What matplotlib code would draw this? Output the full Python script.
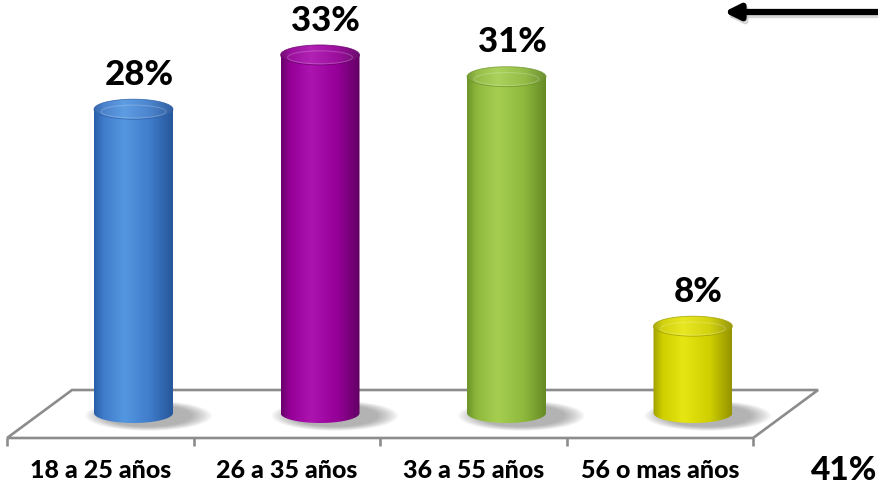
import numpy as np
import matplotlib
matplotlib.use("Agg")
import matplotlib.pyplot as plt
from matplotlib.patches import Ellipse, Polygon
from matplotlib.colors import to_rgb

# ---- data ----
categories = ["18 a 25 años", "26 a 35 años", "36 a 55 años", "56 o mas años"]
values = [28, 33, 31, 8]
value_labels = ["28%", "33%", "31%", "8%"]
side_label = "41%"

# ---- styles (dark, mid, light) ----
bar_colors = [
    ("#2A5EA8", "#3F7BC9", "#5497E1"),
    ("#6A006C", "#950097", "#AC14B0"),
    ("#6C9428", "#8DB83C", "#A6CF52"),
    ("#A0A000", "#CFCF00", "#E6E614"),
]
FONT = ["Lato", "DejaVu Sans"]

W, H = 879, 488
fig = plt.figure(figsize=(W / 100, H / 100), dpi=100)
ax = fig.add_axes([0, 0, 1, 1])
ax.set_axis_off()

# pixel <-> data mapping: category i at px 133.5 + 186.5*i, value v at py 413 - 10.85*v
PX0, PXS = 133.5, 186.5
PY0, PYS = 413.0, 10.85
ax.set_xlim(-PX0 / PXS, (W - PX0) / PXS)
ax.set_ylim((PY0 - H) / PYS, PY0 / PYS)

bw = 79 / PXS           # cylinder width in category units
eh = 20 / PYS           # ellipse height in value units
depth_x = 65 / PXS      # floor perspective shift
floor_front = -25 / PYS
floor_back = 23 / PYS
lab_shift = 0.178
n = len(categories)

# ---- floor ----
x_left = -0.5 - lab_shift
x_right = n - 0.5 - lab_shift
floor = Polygon([(x_left, floor_front), (x_right, floor_front),
                 (x_right + depth_x, floor_back), (x_left + depth_x, floor_back)],
                closed=True, facecolor="white", edgecolor="#8C8C8C", lw=1.9, zorder=1)
ax.add_patch(floor)
for k in range(n + 1):
    xt = x_left + k
    ax.plot([xt, xt], [floor_front, floor_front - 8 / PYS], color="#8C8C8C", lw=1.9,
            zorder=1, solid_capstyle="butt")


def gradient(cols, npx=200, lighten=0.0):
    d, m, l = (np.array(to_rgb(c)) for c in cols)
    if lighten:
        d = d + (1 - d) * lighten
        m = m + (1 - m) * lighten
        l = l + (1 - l) * lighten
    t = np.linspace(0, 1, npx)
    ctrl_t = [0.0, 0.12, 0.38, 0.72, 1.0]
    ctrl_c = [d, m, l, m, d * 0.92]
    out = np.zeros((1, npx, 3))
    for ch in range(3):
        out[0, :, ch] = np.interp(t, ctrl_t, [c[ch] for c in ctrl_c])
    return np.clip(out, 0, 1)


for i, (v, cols) in enumerate(zip(values, bar_colors)):
    x0, x1 = i - bw / 2, i + bw / 2
    # shadow on the floor
    for s in range(10):
        f = s / 9
        sh = Ellipse((i + 0.08, -0.25), width=bw * (1.6 - 0.5 * f), height=eh * (1.5 - 0.4 * f),
                     facecolor="#505050", edgecolor="none", alpha=0.05, zorder=2)
        ax.add_patch(sh)
    # body path: bottom half ellipse + straight sides
    tt = np.linspace(np.pi, 2 * np.pi, 80)
    xs = list(i + bw / 2 * np.cos(tt)) + [x1, x0]
    ys = list(eh / 2 * np.sin(tt)) + [v, v]
    body = Polygon(np.column_stack([xs, ys]), closed=True, facecolor="none",
                   edgecolor="none", zorder=3)
    ax.add_patch(body)
    im = ax.imshow(gradient(cols), extent=[x0, x1, -eh, v], aspect="auto",
                   interpolation="bilinear", zorder=3)
    im.set_clip_path(body)
    # top ellipse
    top = Ellipse((i, v), width=bw, height=eh, facecolor="none",
                  edgecolor=cols[0], lw=0.6, alpha=0.8, zorder=5)
    ax.add_patch(top)
    im2 = ax.imshow(gradient(cols, lighten=0.06), extent=[x0, x1, v - eh / 2, v + eh / 2],
                    aspect="auto", interpolation="bilinear", zorder=4)
    im2.set_clip_path(top)
    # subtle highlight rim on the front of the top
    hl = Ellipse((i, v - eh * 0.12), width=bw * 0.82, height=eh * 0.65, facecolor="none",
                 edgecolor="white", lw=0.8, alpha=0.2, zorder=5)
    ax.add_patch(hl)
    hl.set_clip_path(top)
    # value label
    ax.text(i + 0.03, v + 2.25, value_labels[i], ha="center", va="baseline",
            fontsize=25, fontweight=900, family=FONT, color="black", zorder=6)

# category labels
for i, c in enumerate(categories):
    ax.text(i - lab_shift, (PY0 - 470) / PYS, c, ha="center", va="center",
            fontsize=18, fontweight=900, family=FONT, color="black")

# side label at the right edge
ax.text((877 - PX0) / PXS, (PY0 - 470) / PYS, side_label, ha="right", va="center",
        fontsize=24, fontweight=900, family=FONT, color="black")

# arrow at top right (with soft shadow)
ay = (PY0 - 12) / PYS
ax_tip = (724 - PX0) / PXS
ax_tail = (900 - PX0) / PXS
ax.annotate("", xy=(ax_tip + 0.01, ay - 3 / PYS), xytext=(ax_tail, ay - 3 / PYS),
            arrowprops=dict(arrowstyle="-|>,head_length=0.9,head_width=0.45",
                            lw=4.5, color="#BBBBBB", alpha=0.6, shrinkA=0, shrinkB=0))
ax.annotate("", xy=(ax_tip, ay), xytext=(ax_tail, ay),
            arrowprops=dict(arrowstyle="-|>,head_length=0.9,head_width=0.45",
                            lw=4.5, color="black", shrinkA=0, shrinkB=0))

fig.savefig("out.png", dpi=100)
